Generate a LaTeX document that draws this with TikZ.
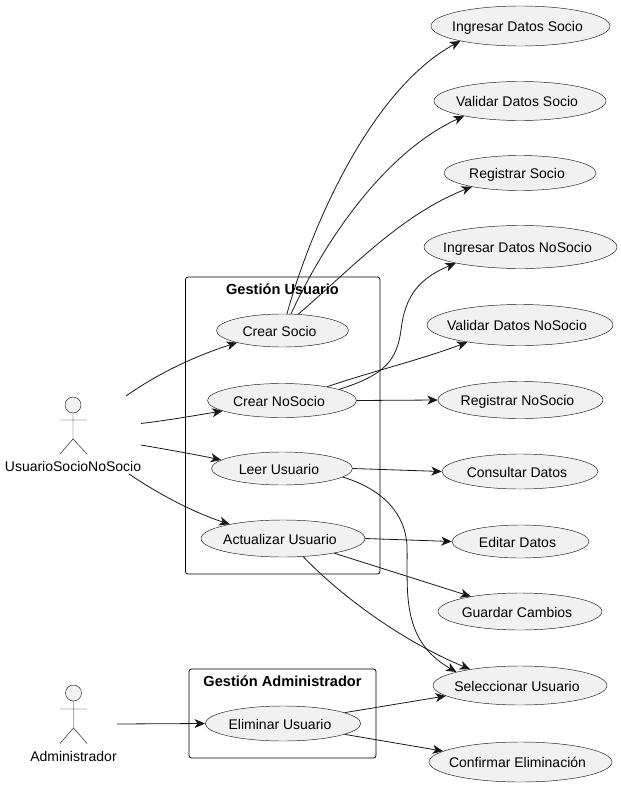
\documentclass[tikz,border=0pt]{standalone}
\usepackage{fontspec}
\setmainfont{Liberation Sans}
\usetikzlibrary{shapes.geometric, arrows.meta, positioning}
\definecolor{usefill}{HTML}{F1F1F1}
\definecolor{useline}{HTML}{181818}

\begin{document}
\begin{tikzpicture}[
  x=1pt, y=-1pt,
  usecase/.style={ellipse, draw=useline, line width=0.45pt, fill=usefill, inner ysep=0pt, inner xsep=-30pt, text height=11pt, text depth=0pt, font=\fontsize{14}{16}\selectfont, execute at begin node=\hspace*{-6pt}},
  pkg/.style={rectangle, draw=black, line width=0.8pt, rounded corners=2.5pt, inner sep=0pt},
  pkgtitle/.style={inner sep=0pt, text height=10pt, text depth=0pt, font=\fontsize{14.6}{16}\selectfont\bfseries},
  head/.style={circle, draw=useline, line width=0.45pt, fill=usefill, minimum size=16pt, inner sep=0pt},
  limb/.style={draw=useline, line width=0.45pt},
  actorname/.style={inner sep=0pt, text height=11pt, text depth=0pt, font=\fontsize{14}{16}\selectfont},
  arrow/.style={-{Stealth[length=10.5pt, width=9pt, inset=3pt]}, line width=0.8pt, draw=useline}
]
  \useasboundingbox (0,0) rectangle (621,787);

  % Packages
  \node[pkg, minimum width=194.5pt, minimum height=297pt] (gestusuario) at (282.75,425.5) {};
  \node[pkg, minimum width=187pt, minimum height=89pt] (gestadmin) at (282.5,713.5) {};
  \node[pkgtitle] (titusuario) at (282.5,289) {Gestión Usuario};
  \node[pkgtitle] (titadmin) at (282.5,681.5) {Gestión Administrador};

  % Actors
  \node[head] (headsocio) at (73,405) {};
  \draw[limb] (headsocio) -- (73,439) -- (60,454) (73,439) -- (87,454) (60,420) -- (87,420);
  \node[actorname] (socio) at (73,466) {UsuarioSocioNoSocio};
  \node[head] (headadmin) at (73.5,693) {};
  \draw[limb] (headadmin) -- (73.5,728) -- (60,743.5) (73.5,728) -- (87,743.5) (60,709) -- (87,709);
  \node[actorname] (admin) at (73.5,755.5) {Administrador};
  \coordinate (socioa) at (126,396);
  \coordinate (sociob) at (141,423.5);
  \coordinate (socioc) at (141,445);
  \coordinate (sociod) at (129,474);
  \coordinate (admina) at (117,724);

  % Use cases inside the packages
  \node[usecase, minimum width=132pt, minimum height=33pt] (crearsocio) at (282.5,330.5) {Crear Socio};
  \node[usecase, minimum width=149pt, minimum height=34pt] (crearnosocio) at (282,400.5) {Crear NoSocio};
  \node[usecase, minimum width=141pt, minimum height=33pt] (leer) at (282,468.5) {Leer Usuario};
  \node[usecase, minimum width=164pt, minimum height=37pt] (actualizar) at (283,538.5) {Actualizar Usuario};
  \node[usecase, minimum width=155.5pt, minimum height=35pt] (eliminar) at (283,723.5) {Eliminar Usuario};

  % Use cases on the right
  \node[usecase, minimum width=179pt, minimum height=40pt] (ingsocio) at (520.5,26) {Ingresar Datos Socio};
  \node[usecase, minimum width=172pt, minimum height=39pt] (valsocio) at (520,101) {Validar Datos Socio};
  \node[usecase, minimum width=152pt, minimum height=35pt] (regsocio) at (520,173) {Registrar Socio};
  \node[usecase, minimum width=193pt, minimum height=43pt] (ingnosocio) at (520.5,247) {Ingresar Datos NoSocio};
  \node[usecase, minimum width=186pt, minimum height=41pt] (valnosocio) at (520,325) {Validar Datos NoSocio};
  \node[usecase, minimum width=165pt, minimum height=37pt] (regnosocio) at (520.5,400) {Registrar NoSocio};
  \node[usecase, minimum width=156pt, minimum height=35pt] (consultar) at (520,471.5) {Consultar Datos};
  \node[usecase, minimum width=137pt, minimum height=33pt] (editar) at (520.5,541.5) {Editar Datos};
  \node[usecase, minimum width=164pt, minimum height=37pt] (guardar) at (520,611.5) {Guardar Cambios};
  \node[usecase, minimum width=174pt, minimum height=39pt] (seleccionar) at (520,685.5) {Seleccionar Usuario};
  \node[usecase, minimum width=183pt, minimum height=40pt] (confirmar) at (520.5,762) {Confirmar Eliminación};

  % Arrows from the actors
  \draw[arrow] (socioa) .. controls (160,372) and (198,355) .. (crearsocio.195);
  \draw[arrow] (sociob) .. controls (170,420) and (198,415) .. (crearnosocio.190);
  \draw[arrow] (socioc) .. controls (170,450) and (198,455) .. (leer.172);
  \draw[arrow] (sociod) .. controls (160,495) and (195,513) .. (actualizar.165);
  \draw[arrow] (admina) -- (eliminar.west);

  % Arrows from Crear Socio
  \draw[arrow] (crearsocio.75) .. controls (310,230) and (370,90) .. (ingsocio.194);
  \draw[arrow] (crearsocio.63) .. controls (330,230) and (390,150) .. (valsocio.195);
  \draw[arrow] (crearsocio.46) .. controls (350,270) and (400,215) .. (regsocio.196);

  % Arrows from Crear NoSocio
  \draw[arrow] (crearnosocio.11) .. controls (385,375) and (397,360) .. (401,330) .. controls (405,295) and (420,278) .. (ingnosocio.194);
  \draw[arrow] (crearnosocio.17) .. controls (370,372) and (420,360) .. (valnosocio.198);
  \draw[arrow] (crearnosocio.east) -- (regnosocio.west);

  % Arrows from Leer Usuario
  \draw[arrow] (leer.east) -- (consultar.west);
  \draw[arrow] (leer.-8) .. controls (385,490) and (405,515) .. (407,545) .. controls (408,590) and (400,640) .. (seleccionar.168);

  % Arrows from Actualizar Usuario
  \draw[arrow] (actualizar.east) -- (editar.west);
  \draw[arrow] (actualizar.-16) -- (guardar.163);
  \draw[arrow] (actualizar.-42) .. controls (340,595) and (400,640) .. (seleccionar.162);

  % Arrows from Eliminar Usuario
  \draw[arrow] (eliminar.10) -- (seleccionar.188);
  \draw[arrow] (eliminar.-10) -- (confirmar.172);
\end{tikzpicture}
\end{document}
